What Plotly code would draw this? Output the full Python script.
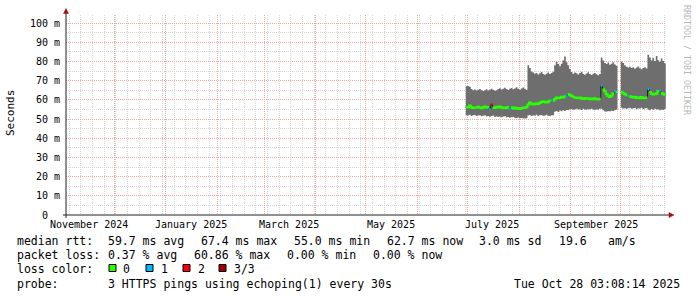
import plotly.graph_objects as go
import pandas as pd

# ---------------- data ----------------
RANGE_START = "2024-11-02 03:08:14"
RANGE_END = "2025-10-28 03:08:14"

first_day = "2025-06-30"
n_days = 120

# smoke band (ms): top and bottom of the ping spread, one value per day (None = no data)
smoke_top = [
    67.0,
    67.2, 66.8, 65.6, 65.0, 65.4, 64.8, 65.2, 65.6, 65.0, 64.6, 65.0, 65.5, 64.8, 65.3, 65.8,
    65.2, 64.7, 65.0, 65.6, 66.0, 65.4, 65.8, 66.3, 65.6, 65.1, 65.7, 66.2, 65.5, 65.9, 66.6, 65.8,
    65.3, 65.9, 66.4, 65.7, 65.2, 78.0, 76.5, 74.8, 74.2, 73.6, 74.0, 73.2, 73.8, 74.5, 73.4,
    73.0, 73.6, 74.2, 73.5, 73.9, 74.6, 78.0, 79.8, 78.6, 77.5, 78.8, 80.5, 82.5, 79.5, 78.0, 76.0,
    74.5, 73.6, 74.2, 73.8, 73.2, 73.9, 74.6, 73.5, 73.0, 73.7, 74.3, 73.4, 72.9, 73.6, 74.0,
    73.3, 72.8, 73.5, 82.0, 80.5, 79.2, 78.6, 79.4, 78.2, 78.8, 79.6, 78.4, 77.8, None, None,
    80.0, 79.2, 78.0, 77.2, 76.8, 77.2, 76.5, 77.0, 76.2, 76.8, 77.4, 76.4, 75.9, 76.6, 77.0, 76.3,
    83.5, 82.0, 80.5, 81.8, 80.2, 82.8, 80.6, 79.8, 81.5, 80.2, 79.0,
]
smoke_bottom = [
    52.0,
    51.8, 52.2, 51.6, 51.9, 52.1, 51.5, 51.8, 52.0, 51.4, 51.7, 51.9, 51.3, 51.6, 51.2, 51.5,
    51.8, 51.1, 51.4, 51.0, 51.3, 50.9, 51.2, 51.5, 50.8, 51.0, 50.6, 50.9, 51.2, 50.7, 50.4, 50.8,
    50.3, 50.6, 50.2, 50.5, 50.4, 51.8, 52.1, 51.6, 52.0, 51.7, 52.2, 51.5, 51.9, 52.1, 51.6,
    51.8, 52.2, 51.7, 51.4, 51.9, 52.0, 53.8, 54.2, 53.6, 54.4, 54.0, 54.6, 54.2, 54.8, 54.5, 55.0,
    55.2, 54.8, 55.0, 55.4, 54.9, 55.1, 54.7, 55.3, 55.0, 54.8, 55.2, 54.9, 55.4, 55.0, 54.7,
    55.1, 54.8, 55.3, 55.4, 54.6, 54.0, 53.8, 54.2, 53.9, 54.4, 54.1, 54.6, 55.0, None, None,
    55.8, 55.4, 55.7, 55.2, 55.6, 55.9, 55.3, 55.5, 55.8, 55.1, 55.6, 55.4, 55.9, 55.2, 55.5, 55.7,
    55.0, 54.6, 55.2, 54.8, 55.3, 54.9, 55.1, 54.5, 55.0, 54.7, 55.2,
]
median_rtt = [
    56.0,
    56.2, 57.0, 56.1, 55.8, 56.0, 55.9, 56.3, 56.0, 55.7, 56.1, 56.4, 55.9, 56.2, 55.0, 57.6,
    56.0, 55.8, 56.3, 56.0, 56.5, 56.1, 55.7, 56.0, 55.6, 56.2, 55.4, 56.1, 55.5, 55.9, 55.4, 55.7,
    55.3, 55.6, 56.0, 55.8, 56.2, 57.5, 58.5, 58.0, 57.6, 57.8, 58.2, 57.9, 58.4, 58.9, 59.2,
    58.8, 58.6, 59.0, 59.4, 59.8, 59.5, 60.4, 61.2, 60.8, 61.0, 61.5, 61.2, 61.8, 62.0, 63.0, 62.6,
    62.0, 61.6, 61.2, 61.0, 60.8, 61.1, 60.7, 60.5, 60.9, 60.6, 60.8, 60.4, 60.6, 60.3, 60.7,
    60.4, 60.2, 60.5, 67.4, 65.5, 64.5, 63.0, 62.0, 61.5, 62.2, 63.3, 64.5, 64.0, None, None,
    64.2, 63.5, 63.0, 62.4, 62.0, 61.8, 61.5, 61.2, 61.6, 61.0, 61.3, 60.9, 61.4, 61.0, 60.8, 61.2,
    65.6, 64.0, 63.2, 62.8, 63.0, 63.2, 64.5, 64.8, 63.5, 63.0, 62.7,
]
# days with packet loss (all other days: 0 lost)
loss_dates = ["2025-07-14", "2025-07-15", "2025-07-26", "2025-08-20", "2025-08-29",
              "2025-09-19", "2025-09-27", "2025-10-05", "2025-10-17", "2025-10-24"]
loss_levels = [1, 2, 1, 1, 1, 1, 1, 1, 1, 1]

loss_classes = ["0", "1", "2", "3/3"]
loss_colors = ["#26ff00", "#00b8ff", "#ff0000", "#a00000"]

y_tick_vals = [0, 0.01, 0.02, 0.03, 0.04, 0.05, 0.06, 0.07, 0.08, 0.09, 0.10]
y_tick_text = ["0\u00a0\u00a0", "10 m", "20 m", "30 m", "40 m", "50 m", "60 m", "70 m", "80 m", "90 m", "100 m"]
x_label_dates = ["2024-11-16", "2025-01-16", "2025-03-16", "2025-05-16", "2025-07-16", "2025-09-16"]
x_label_text = ["November 2024", "January 2025", "March 2025", "May 2025", "July 2025", "September 2025"]

legend_rows = [
    [("median rtt:", 16), ("59.7 ms avg", 107), ("67.4 ms max", 200), ("55.0 ms min", 293),
     ("62.7 ms now", 386), ("3.0 ms sd", 478), ("19.6", 558), ("am/s", 607)],
    [("packet loss:", 16), ("0.37 % avg", 107), ("60.86 % max", 193), ("0.00 % min", 286),
     ("0.00 % now", 372)],
    [("loss color:", 16)],
    [("probe:", 16), ("3 HTTPS pings using echoping(1) every 30s", 107),
     ("Tue Oct 28 03:08:14 2025", 513)],
]

# ---------------- build ----------------
days = pd.date_range(first_day, periods=n_days, freq="D")
edges = list(days) + [days[-1] + pd.Timedelta(days=1)]
loss = [0] * n_days
for d, lv in zip(loss_dates, loss_levels):
    loss[list(days).index(pd.Timestamp(d))] = lv

MONO = "DejaVu Sans Mono"
L, R, T, B = 66, 31, 15, 82
PW, PH = 600, 200
def px(xp): return (xp - L) / PW
def py(yp): return (T + PH - yp) / PH

fig = go.Figure()

# smoke polygons (one per contiguous run)
runs, cur = [], []
for i in range(n_days):
    if smoke_top[i] is None:
        if cur: runs.append(cur); cur = []
    else:
        cur.append(i)
if cur: runs.append(cur)
for run in runs:
    xs, ys = [], []
    for i in run:
        xs += [edges[i], edges[i + 1]]
        ys += [smoke_top[i] / 1000, smoke_top[i] / 1000]
    for i in reversed(run):
        xs += [edges[i + 1], edges[i]]
        ys += [smoke_bottom[i] / 1000, smoke_bottom[i] / 1000]
    fig.add_trace(go.Scatter(x=xs, y=ys, fill="toself", fillcolor="#6e6e6e", mode="lines",
                             line=dict(width=0, color="#6e6e6e"), hoverinfo="skip"))

# median base line (dark)
mx = edges
my = [None if v is None else v / 1000 for v in median_rtt] + [median_rtt[-1] / 1000]
fig.add_trace(go.Scatter(x=mx, y=my, mode="lines", line=dict(color="#202020", width=1, shape="hv"),
                         connectgaps=False, hoverinfo="skip"))

# loss coloured median segments
for c in range(len(loss_classes)):
    xs, ys = [], []
    i = 0
    while i < n_days:
        if median_rtt[i] is not None and loss[i] == c:
            j = i
            while j + 1 < n_days and median_rtt[j + 1] is not None and loss[j + 1] == c:
                j += 1
            for k in range(i, j + 1):
                xs.append(edges[k]); ys.append(median_rtt[k] / 1000)
            xs.append(edges[j + 1]); ys.append(median_rtt[j] / 1000)
            xs.append(None); ys.append(None)
            i = j + 1
        else:
            i += 1
    if xs:
        fig.add_trace(go.Scatter(x=xs, y=ys, mode="lines", connectgaps=False,
                                 line=dict(color=loss_colors[c], width=2.2, shape="hv"), hoverinfo="skip"))

month_starts = pd.date_range("2024-12-01", "2025-10-01", freq="MS")
mondays = pd.date_range("2024-11-04", RANGE_END, freq="7D")

fig.update_layout(
    width=697, height=297, margin=dict(l=L, r=R, t=T, b=B, pad=0),
    paper_bgcolor="white", plot_bgcolor="white", showlegend=False,
    font=dict(family=MONO, size=10, color="#000000"),
    xaxis=dict(type="date", range=[RANGE_START, RANGE_END], tickmode="array",
               tickvals=list(month_starts), showticklabels=False, ticks="",
               showgrid=True, gridcolor="#f4a3a3", griddash="1px,1px", gridwidth=1,
               zeroline=False, showline=False,
               minor=dict(tickmode="array", tickvals=list(mondays), showgrid=True,
                          gridcolor="#d6d6d6", griddash="1px,1px", ticks="")),
    yaxis=dict(range=[0, 0.10417], tickmode="array", tickvals=y_tick_vals, ticktext=y_tick_text,
               ticks="", ticklabelstandoff=5, tickfont=dict(family=MONO, size=10, color="#000"),
               showgrid=True, gridcolor="#f4a3a3", griddash="1px,1px", zeroline=False, showline=False,
               minor=dict(tickmode="linear", tick0=0.005, dtick=0.01, showgrid=True,
                          gridcolor="#d6d6d6", griddash="1px,1px", ticks="")),
)

shapes = []
AX = "#202020"
# axes with arrows
shapes.append(dict(type="line", xref="paper", yref="paper", x0=px(63), x1=px(670), y0=py(215), y1=py(215),
                   line=dict(color=AX, width=1), layer="above"))
shapes.append(dict(type="line", xref="paper", yref="paper", x0=px(66), x1=px(66), y0=py(218), y1=py(12),
                   line=dict(color=AX, width=1), layer="above"))
shapes.append(dict(type="path", xref="paper", yref="paper",
                   path=f"M {px(669)},{py(212.5)} L {px(674)},{py(215)} L {px(669)},{py(217.5)} Z",
                   fillcolor="#a01010", line=dict(color="#a01010", width=0.5), layer="above"))
shapes.append(dict(type="path", xref="paper", yref="paper",
                   path=f"M {px(63.5)},{py(13.5)} L {px(66)},{py(8.5)} L {px(68.5)},{py(13.5)} Z",
                   fillcolor="#a01010", line=dict(color="#a01010", width=0.5), layer="above"))
# loss colour swatches
sw_x = [109, 146, 183, 219]
lab_x = [122, 160, 197, 233]
for c in range(len(loss_classes)):
    shapes.append(dict(type="rect", xref="paper", yref="paper", x0=px(sw_x[c]), x1=px(sw_x[c] + 7),
                       y0=py(271.5), y1=py(264.5), fillcolor=loss_colors[c],
                       line=dict(color="#000", width=1)))
fig.update_layout(shapes=shapes)

ann = []
for d, t in zip(x_label_dates, x_label_text):
    ann.append(dict(x=d, xref="x", y=py(224), yref="paper", text=t, showarrow=False,
                    xanchor="center", yanchor="middle", font=dict(family=MONO, size=10, color="#000")))
ann.append(dict(x=px(10), y=py(113), xref="paper", yref="paper", text="Seconds", textangle=-90,
                showarrow=False, xanchor="center", yanchor="middle", font=dict(family=MONO, size=11, color="#000")))
ann.append(dict(x=px(687), y=py(60), xref="paper", yref="paper", text="RRDTOOL / TOBI OETIKER", textangle=90,
                showarrow=False, xanchor="center", yanchor="middle", font=dict(family=MONO, size=8.3, color="#b8b8b8")))
row_y = [240.5, 255, 269, 283.5]
for r, row in enumerate(legend_rows):
    for text, xp in row:
        ann.append(dict(x=px(xp - 1), y=py(row_y[r]), xref="paper", yref="paper", text=text, showarrow=False,
                        xanchor="left", yanchor="middle", font=dict(family=MONO, size=11.5, color="#000")))
for c in range(len(loss_classes)):
    ann.append(dict(x=px(lab_x[c] - 1), y=py(row_y[2]), xref="paper", yref="paper", text=loss_classes[c],
                    showarrow=False, xanchor="left", yanchor="middle",
                    font=dict(family=MONO, size=11.5, color="#000")))
fig.update_layout(annotations=ann)

fig.write_html("out.html")
